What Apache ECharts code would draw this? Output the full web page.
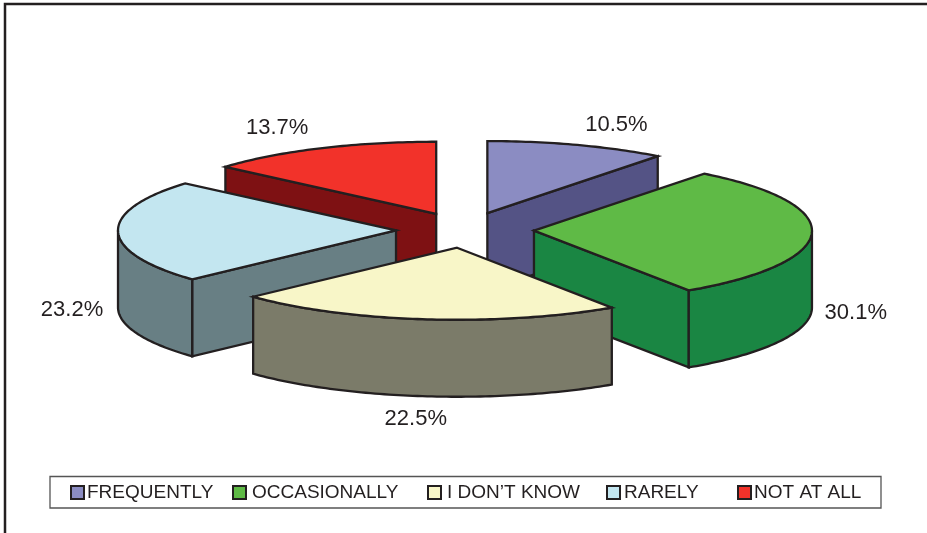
<!DOCTYPE html>
<html>
<head>
<meta charset="utf-8">
<style>html,body{margin:0;padding:0;background:#fff}#c{width:927px;height:533px}</style>
<script src="https://cdn.jsdelivr.net/npm/echarts@6/dist/echarts.min.js"></script>
</head>
<body>
<div id="c"></div>
<script>
const categories = ['FREQUENTLY', 'OCCASIONALLY', "I DON\u2019T KNOW", 'RARELY', 'NOT AT ALL'];
const shares = [10.5, 30.1, 22.5, 23.2, 13.7];
const topColors = ['#8b8cc2', '#5fba46', '#f8f6c8', '#c3e6f0', '#f2322a'];
const sideColors = ['#545385', '#1a8643', '#7b7b69', '#687f84', '#7e1113'];
const labelOffsets = [[39, -20], [44, 80], [-9, 100], [-46, 78], [-43, -20]];
const legendLefts = [70, 232, 427, 606, 737];
const legendTextShift = [-2, 1, 1, -1, -2];
const drawRank = [1, 3, 4, 2, 0];

const INK = '#231f20';
const FONT = '"Liberation Sans", Arial, sans-serif';
const CX = 465, CY = 230, RX = 278, RY = 72, EXPLODE = 69, DEPTH = 77;

const total = shares.reduce((a, b) => a + b, 0);
const starts = [];
shares.reduce((acc, v, i) => { starts[i] = acc; return acc + v; }, 0);
const rad = d => d * Math.PI / 180;

function renderSlice(params, api) {
  const i = params.seriesIndex;
  const before = starts[i];
  const a0 = before / total * 360;
  const a1 = a0 + api.value(0) / total * 360;
  const mid = (a0 + a1) / 2;
  const ax = CX + EXPLODE * Math.sin(rad(mid));
  const ay = CY - EXPLODE * (RY / RX) * Math.cos(rad(mid));
  const pt = (deg, drop) => [ax + RX * Math.sin(rad(deg)), ay - RY * Math.cos(rad(deg)) + (drop || 0)];
  const arc = (from, to, drop) => {
    const out = [];
    const n = Math.max(2, Math.ceil(Math.abs(to - from)));
    for (let k = 0; k <= n; k++) out.push(pt(from + (to - from) * k / n, drop));
    return out;
  };
  const wall = { fill: sideColors[i], stroke: INK, lineWidth: 2.3, lineJoin: 'miter' };
  const children = [];
  const radial = deg => children.push({
    type: 'polygon',
    shape: { points: [[ax, ay], pt(deg), pt(deg, DEPTH), [ax, ay + DEPTH]] },
    style: wall
  });
  if (Math.sin(rad(a0)) < 0) radial(a0);
  if (Math.sin(rad(a1)) > 0) radial(a1);
  const r0 = Math.max(a0, 90), r1 = Math.min(a1, 270);
  if (r1 > r0) {
    children.push({
      type: 'polygon',
      shape: { points: arc(r0, r1, 0).concat(arc(r1, r0, DEPTH)) },
      style: wall
    });
  }
  children.push({
    type: 'polygon',
    shape: { points: [[ax, ay]].concat(arc(a0, a1, 0)) },
    style: { fill: topColors[i], stroke: INK, lineWidth: 2.3, lineJoin: 'miter' }
  });
  const lp = pt(mid);
  children.push({
    type: 'text',
    style: {
      text: api.value(0).toFixed(1) + '%',
      x: lp[0] + labelOffsets[i][0],
      y: lp[1] + labelOffsets[i][1],
      fill: INK,
      font: '22px ' + FONT,
      align: 'center',
      verticalAlign: 'middle'
    }
  });
  return { type: 'group', children };
}

const chart = echarts.init(document.getElementById('c'), null, { renderer: 'canvas' });
chart.setOption({
  animation: false,
  backgroundColor: '#ffffff',
  tooltip: { show: false },
  graphic: [
    { type: 'polyline', z: 0, shape: { points: [[5, 533], [5, 4], [927, 4]] },
      style: { fill: null, stroke: '#231f20', lineWidth: 2.5 } },
    { type: 'rect', z: 0, shape: { x: 50, y: 476.5, width: 831, height: 31.5 },
      style: { fill: '#fff', stroke: '#555555', lineWidth: 1.3 } }
  ],
  legend: categories.map((name, i) => ({
    data: [name],
    left: legendLefts[i],
    top: 483,
    padding: 0,
    itemWidth: 13,
    itemHeight: 13,
    icon: 'rect',
    selectedMode: false,
    itemStyle: { borderColor: INK, borderWidth: 2 },
    textStyle: { color: INK, fontSize: 19, fontFamily: FONT, padding: [0, 0, 0, legendTextShift[i]] }
  })),
  series: categories.map((name, i) => ({
    type: 'custom',
    name,
    coordinateSystem: 'none',
    z: 2 + drawRank[i],
    itemStyle: { color: topColors[i] },
    renderItem: renderSlice,
    data: [[shares[i]]]
  }))
});
</script>
</body>
</html>
